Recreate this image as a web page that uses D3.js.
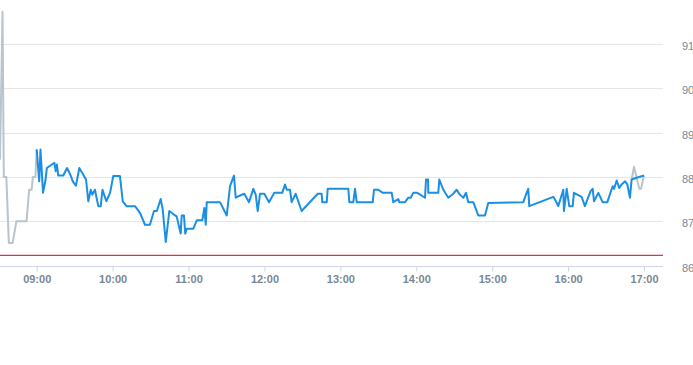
<!DOCTYPE html>
<html>
<head>
<meta charset="utf-8">
<script src="https://cdn.jsdelivr.net/npm/d3@7"></script>
<style>
  html, body { margin: 0; padding: 0; background: #ffffff; }
  svg { display: block; }
</style>
</head>
<body>
<svg id="chart" width="693" height="365"></svg>
<script>
// ---- data ----
const xDomain = ["08:31", "17:15"];
const xTickHours = [9, 10, 11, 12, 13, 14, 15, 16, 17];
const yTicks = [86, 87, 88, 89, 90, 91];
const referencePrice = 86.23;

// pre-market (grey)
const preTimes = ["08:31", "08:33", "08:34", "08:36", "08:38", "08:41", "08:44", "08:52", "08:54", "08:56", "08:57", "08:59", "09:00"];
const preValues = [88.39, 91.73, 88.0, 88.0, 86.51, 86.51, 87.0, 87.0, 87.71, 87.71, 88.0, 88.0, 88.62];

// post-market (grey)
const postTimes = ["16:50:12", "16:52:06", "16:56:18", "16:57:36", "17:00"];
const postValues = [87.94, 88.23, 87.73, 87.73, 88.03];

// regular session (blue)
const mainTimes = [
  "09:00", "09:02", "09:03", "09:05", "09:07", "09:08", "09:12", "09:14", "09:15", "09:16",
  "09:17", "09:21", "09:24", "09:27", "09:28:30", "09:31", "09:33:40", "09:36", "09:39", "09:40:48",
  "09:42:42", "09:44", "09:46", "09:48:42", "09:50:36", "09:52", "09:55", "09:58", "10:00:30", "10:05:48",
  "10:08", "10:11", "10:17:42", "10:21:36", "10:25:36", "10:29:30", "10:32:42", "10:35", "10:38", "10:39:36",
  "10:42", "10:44:48", "10:48:30", "10:50:36", "10:53:48", "10:54:36", "10:56:24", "10:57:24", "10:58:36", "11:03:48",
  "11:06:30", "11:10:54", "11:12:30", "11:13:36", "11:14:24", "11:24:54", "11:30:12", "11:32:48", "11:35:54", "11:37:18",
  "11:40:42", "11:44:06", "11:47:48", "11:51:12", "11:53:06", "11:54:42", "11:56:30", "11:59:54", "12:03:36", "12:07:48",
  "12:14:06", "12:16:12", "12:17:36", "12:20:12", "12:21:30", "12:24:42", "12:29:24", "12:42:06", "12:45:12", "12:45:42",
  "12:49:12", "12:50", "13:06:18", "13:07:06", "13:10:12", "13:11:36", "13:12:54", "13:25:36", "13:26:36", "13:30",
  "13:33:30", "13:40:36", "13:41:48", "13:45:48", "13:46:36", "13:51:06", "13:53:42", "13:55:36", "13:57:36", "14:00:48",
  "14:06:54", "14:07:42", "14:09:18", "14:09:30", "14:17:24", "14:18:12", "14:21:24", "14:25:18", "14:29:18", "14:31:54",
  "14:34:30", "14:37:12", "14:39:18", "14:41:06", "14:45:06", "14:49", "14:54:18", "14:56:54", "15:24:36", "15:27:18",
  "15:28:30", "15:29:18", "15:48:18", "15:50:24", "15:52:12", "15:56:12", "15:56:42", "15:58:54", "16:00:54", "16:03:36",
  "16:04:36", "16:10:42", "16:13:18", "16:16", "16:17:48", "16:19:24", "16:20:30", "16:23:54", "16:27:18", "16:31",
  "16:35:12", "16:36:18", "16:38:24", "16:40:24", "16:42:18", "16:45", "16:46:48", "16:48:54", "16:50:12", "16:54:12",
  "17:00"
];
const mainValues = [
  88.62, 87.90, 88.62, 87.64, 87.94, 88.20, 88.28, 88.32, 88.13, 88.28,
  88.03, 88.03, 88.20, 88.02, 87.90, 87.80, 88.20, 88.09, 87.94, 87.45,
  87.71, 87.60, 87.71, 87.34, 87.34, 87.71, 87.45, 87.64, 88.02, 88.02,
  87.45, 87.34, 87.34, 87.19, 86.92, 86.92, 87.23, 87.23, 87.50, 87.26,
  86.53, 87.23, 87.15, 87.11, 86.72, 87.13, 87.13, 86.72, 86.83, 86.83,
  87.02, 87.02, 87.30, 86.92, 87.43, 87.43, 87.13, 87.79, 88.03, 87.53,
  87.58, 87.62, 87.43, 87.73, 87.60, 87.23, 87.62, 87.62, 87.43, 87.64,
  87.64, 87.83, 87.71, 87.71, 87.43, 87.62, 87.23, 87.62, 87.62, 87.43,
  87.43, 87.73, 87.73, 87.43, 87.43, 87.73, 87.43, 87.43, 87.71, 87.71,
  87.64, 87.64, 87.43, 87.50, 87.43, 87.43, 87.53, 87.53, 87.64, 87.64,
  87.53, 87.94, 87.94, 87.64, 87.64, 87.94, 87.71, 87.53, 87.62, 87.71,
  87.60, 87.53, 87.64, 87.43, 87.43, 87.13, 87.13, 87.41, 87.43, 87.65,
  87.73, 87.34, 87.55, 87.45, 87.34, 87.71, 87.23, 87.73, 87.34, 87.34,
  87.64, 87.55, 87.34, 87.55, 87.68, 87.73, 87.45, 87.64, 87.43, 87.43,
  87.79, 87.73, 87.92, 87.75, 87.83, 87.90, 87.83, 87.53, 87.94, 87.98,
  88.03
];

// ---- helpers ----
function toMin(s) {
  const p = s.split(":").map(Number);
  return p[0] * 60 + p[1] + (p[2] || 0) / 60;
}
function zip(times, values) {
  return times.map((t, i) => ({ t: toMin(t), v: values[i] }));
}

// ---- layout ----
const svg = d3.select("#chart");
const plotLeft = 0, plotRight = 663, plotTop = 44, plotBottom = 265.5;

const x = d3.scaleLinear()
  .domain(xDomain.map(toMin))
  .range([plotLeft, plotRight]);
const y = d3.scaleLinear()
  .domain([86, 91])
  .range([plotBottom, plotTop]);

// grid lines
svg.append("g")
  .selectAll("line")
  .data(yTicks.filter(d => d !== 86))
  .join("line")
  .attr("x1", plotLeft).attr("x2", plotRight)
  .attr("y1", d => Math.round(y(d)) + 0.5).attr("y2", d => Math.round(y(d)) + 0.5)
  .attr("stroke", "#e6e6e6").attr("stroke-width", 1);

// y labels (right)
svg.append("g")
  .selectAll("text")
  .data(yTicks)
  .join("text")
  .attr("x", 682)
  .attr("y", d => y(d) + 6)
  .attr("font-family", "Liberation Sans, Arial, sans-serif")
  .attr("font-size", 11)
  .attr("fill", "#7a8794")
  .text(d => d);

// x axis
const xAxis = d3.axisBottom(x)
  .tickValues(xTickHours.map(h => h * 60))
  .tickSize(5)
  .tickPadding(4)
  .tickFormat(m => d3.format("02d")(m / 60) + ":00");

const gx = svg.append("g")
  .attr("transform", `translate(0,${Math.round(plotBottom) + 0.5})`)
  .call(xAxis);
gx.select(".domain").attr("stroke", "#ccd6eb").attr("d", `M${plotLeft},0H${plotRight}`);
gx.selectAll(".tick line").attr("stroke", "#ccd6eb");
gx.selectAll(".tick text")
  .attr("font-family", "Liberation Sans, Arial, sans-serif")
  .attr("font-size", 11)
  .attr("font-weight", "bold")
  .attr("fill", "#7a8794");

// reference line (red)
svg.append("line")
  .attr("x1", plotLeft).attr("x2", plotRight)
  .attr("y1", y(referencePrice)).attr("y2", y(referencePrice))
  .attr("stroke", "#e0343c").attr("stroke-width", 1.3);

// lines
const line = d3.line().x(d => x(d.t)).y(d => y(d.v));

svg.append("path")
  .datum(zip(preTimes, preValues))
  .attr("d", line)
  .attr("fill", "none")
  .attr("stroke", "#b9c4cc")
  .attr("stroke-width", 2)
  .attr("stroke-linejoin", "round");

svg.append("path")
  .datum(zip(postTimes, postValues))
  .attr("d", line)
  .attr("fill", "none")
  .attr("stroke", "#b9c4cc")
  .attr("stroke-width", 2)
  .attr("stroke-linejoin", "round");

svg.append("path")
  .datum(zip(mainTimes, mainValues))
  .attr("d", line)
  .attr("fill", "none")
  .attr("stroke", "#1a8fe3")
  .attr("stroke-width", 2)
  .attr("stroke-linejoin", "round");
</script>
</body>
</html>
